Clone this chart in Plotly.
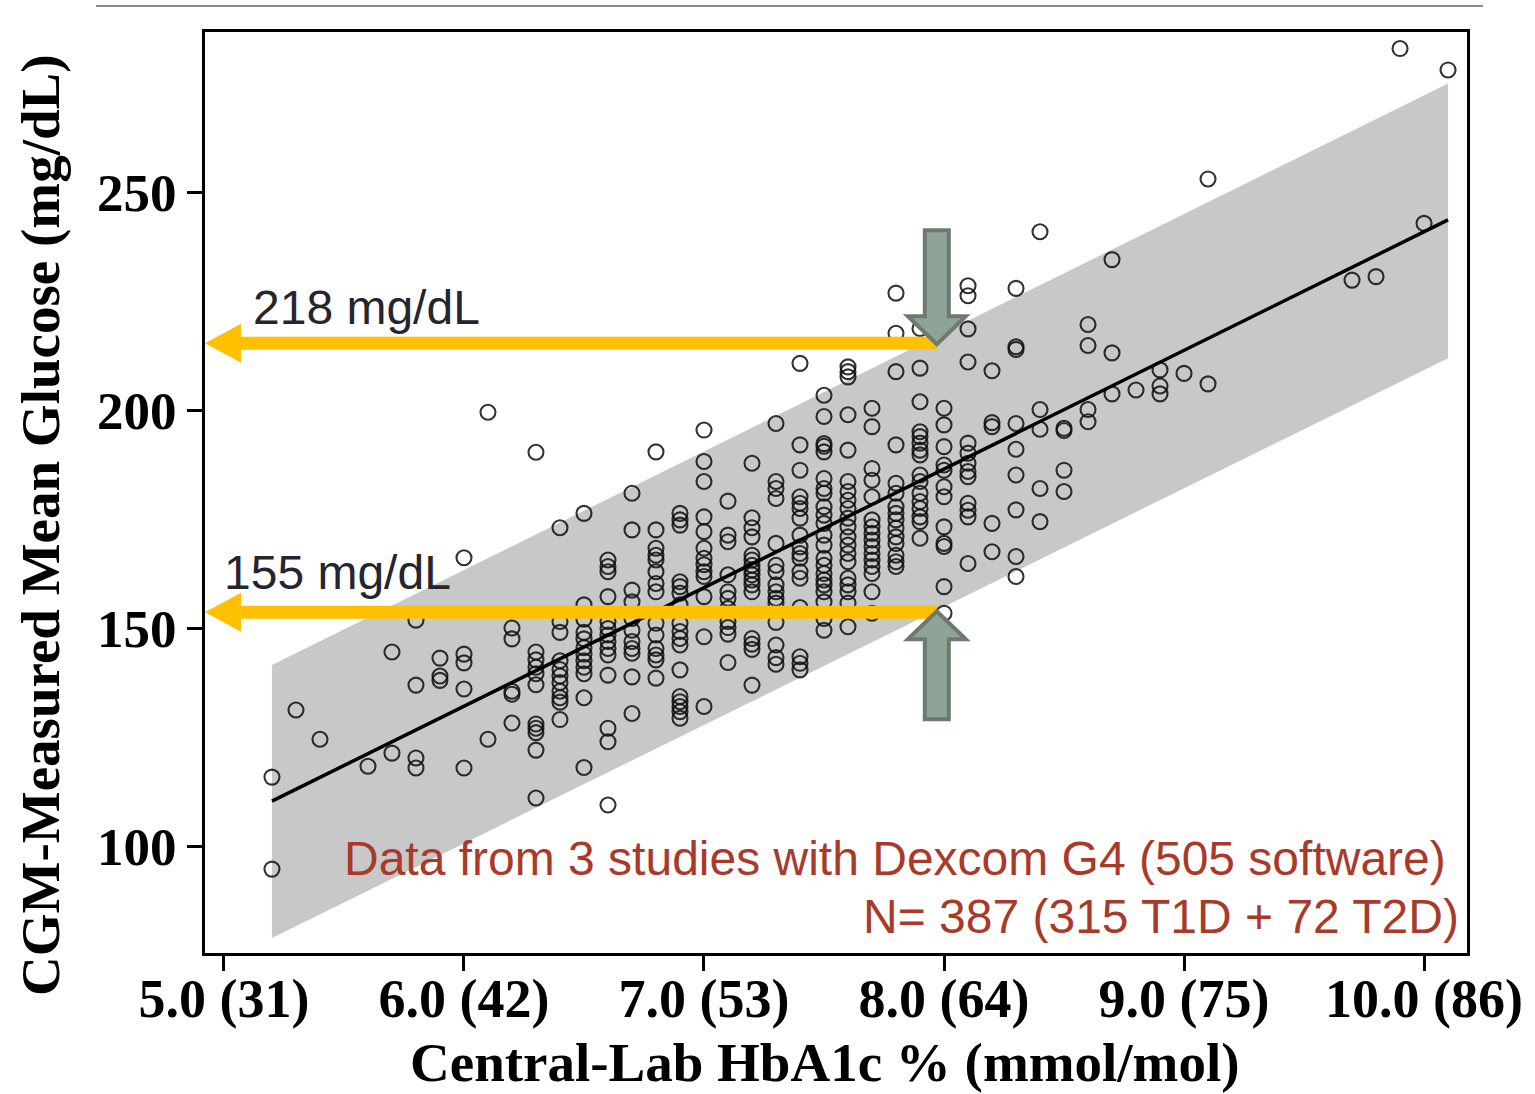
import plotly.graph_objects as go

# ---------------- data ----------------
# HbA1c (%) columns and the CGM-measured mean glucose (mg/dL) of the points in each column
A1C_COLUMNS = [5.2, 5.3, 5.4, 5.6, 5.7, 5.8, 5.9, 6.0, 6.1, 6.2,
               6.3, 6.4, 6.5, 6.6, 6.7, 6.8, 6.9, 7.0, 7.1, 7.2,
               7.3, 7.4, 7.5, 7.6, 7.7, 7.8, 7.9, 8.0, 8.1, 8.2,
               8.3, 8.4, 8.5, 8.6, 8.7, 8.8, 8.9, 9.0, 9.1, 9.7,
               9.8, 9.9, 10.0, 10.1]

GLUCOSE_BY_COLUMN = [
    [115.8, 94.7],
    [131.2],
    [124.5],
    [118.3],
    [144.5, 121.3],
    [151.8, 136.9, 120.2, 117.9],
    [143.1, 139.0, 138.0],
    [166.1, 144.0, 142.0, 136.0, 117.9],
    [199.5, 124.5],
    [150.0, 147.5, 135.5, 134.8, 128.2],
    [190.3, 144.5, 142.7, 141.0, 139.5, 137.0, 128.0, 127.0, 126.0, 122.0, 111.0],
    [173.0, 151.5, 149.0, 142.5, 140.5, 139.0, 137.5, 135.5, 134.0, 133.0, 129.0],
    [176.3, 155.3, 152.0, 149.0, 147.5, 145.5, 144.0, 142.5, 141.0, 139.5, 134.0, 118.0],
    [165.6, 164.1, 162.9, 157.2, 151.5, 149.9, 148.4, 146.9, 145.3, 143.8, 139.2, 127.0, 123.9, 109.4],
    [180.9, 172.5, 158.7, 156.0, 152.2, 149.5, 146.9, 145.3, 144.2, 138.8, 130.4],
    [190.4, 172.5, 168.3, 166.7, 165.6, 162.9, 160.2, 158.3, 151.1, 148.4, 145.3, 143.8, 142.7, 138.5],
    [176.3, 174.8, 173.6, 160.6, 159.5, 158.0, 155.3, 151.1, 149.2, 147.6, 146.1, 140.4, 134.3, 133.1,
     132.0, 130.8, 129.3],
    [195.4, 188.2, 183.6, 175.5, 172.1, 168.3, 166.0, 164.5, 162.9, 161.8, 157.2, 148.0, 132.0],
    [179.1, 171.3, 169.8, 162.2, 158.3, 156.8, 154.5, 151.5, 150.1, 148.6, 142.1],
    [187.8, 175.3, 173.0, 170.9, 166.7, 165.6, 164.4, 163.3, 162.2, 161.0, 159.9, 158.3, 147.6, 146.3,
     145.1, 136.9],
    [196.9, 183.6, 182.0, 179.7, 169.4, 164.4, 162.9, 159.9, 158.3, 156.8, 155.7, 151.3, 146.1, 143.2,
     141.7],
    [210.7, 192.0, 186.2, 180.1, 178.6, 177.4, 175.2, 171.3, 168.6, 167.1, 166.0, 162.9, 161.4, 154.7,
     143.4, 141.9, 140.4],
    [203.4, 198.5, 192.3, 191.7, 190.4, 184.3, 182.0, 180.9, 177.8, 175.9, 174.0, 171.3, 169.0, 166.0,
     164.4, 162.5, 161.0, 159.9, 158.3, 156.0, 152.2, 149.5],
    [209.9, 208.8, 207.6, 198.9, 190.8, 183.6, 181.3, 179.3, 177.4, 175.2, 173.2, 170.9, 169.0, 167.1,
     165.2, 161.4, 159.9, 158.3, 155.7, 150.3],
    [200.4, 196.2, 186.6, 183.9, 180.1, 174.8, 173.2, 171.7, 170.2, 168.7, 167.1, 165.6, 164.1, 162.5,
     158.3, 153.4],
    [226.8, 217.6, 208.8, 192.0, 183.2, 180.9, 177.8, 176.3, 174.8, 172.9, 170.9, 169.4, 166.7, 165.2,
     164.1],
    [218.7, 209.6, 201.9, 195.0, 193.9, 192.4, 190.8, 189.7, 185.1, 183.6, 180.9, 179.0, 177.4, 175.5,
     174.4, 170.6],
    [200.4, 196.6, 191.6, 187.4, 186.2, 182.4, 180.1, 173.2, 169.4, 168.7, 159.5, 153.4],
    [228.5, 226.2, 218.6, 211.0, 192.4, 190.1, 187.8, 185.9, 184.7, 178.6, 177.0, 175.5, 164.8],
    [209.0, 197.1, 196.2, 174.0, 167.5],
    [227.9, 214.5, 213.9, 196.9, 191.0, 185.1, 177.1, 166.4, 161.8],
    [240.9, 200.1, 195.6, 182.0, 174.4],
    [195.8, 195.3, 186.2, 181.3],
    [219.6, 214.8, 200.1, 197.3],
    [234.5, 213.1, 203.7],
    [204.6],
    [209.2, 205.5, 203.7],
    [208.4],
    [253.0, 206.0],
    [229.8],
    [230.6],
    [282.9],
    [242.8],
    [278.0],
]

# regression line and its band (read at both ends)
FIT_A1C = [5.2, 10.1]
FIT_GLUCOSE = [110.3, 243.6]
BAND_UPPER = [141.5, 274.9]
BAND_LOWER = [78.9, 211.9]

# axis ticks
X_TICKS = [5, 6, 7, 8, 9, 10]
X_TICK_LABELS = ["5.0 (31)", "6.0 (42)", "7.0 (53)", "8.0 (64)", "9.0 (75)", "10.0 (86)"]
Y_TICKS = [100, 150, 200, 250]

# highlighted read-outs
MARK_A1C = 7.97
MARK_GLUCOSE = [215.3, 153.6]
MARK_LABELS = ["218 mg/dL", "155 mg/dL"]
NOTE_LINES = ["Data from 3 studies with Dexcom G4 (505 software)",
              "N= 387 (315 T1D + 72 T2D)"]

# ---------------- figure ----------------
X_RANGE = [4.921, 10.179]
Y_RANGE = [75.46, 286.7]
W, H = 1535, 1094
M_L, M_R, M_T, M_B = 205, 68, 32, 141
PX_X = (W - M_L - M_R) / (X_RANGE[1] - X_RANGE[0])   # pixels per A1c unit
PX_Y = (H - M_T - M_B) / (Y_RANGE[1] - Y_RANGE[0])   # pixels per mg/dL

xs, ys = [], []
for a, vals in zip(A1C_COLUMNS, GLUCOSE_BY_COLUMN):
    for v in vals:
        xs.append(a)
        ys.append(v)

fig = go.Figure()

# band
fig.add_trace(go.Scatter(
    x=FIT_A1C + FIT_A1C[::-1], y=BAND_UPPER + BAND_LOWER[::-1],
    fill="toself", fillcolor="rgb(200,200,200)", line=dict(width=0),
    mode="lines", hoverinfo="skip", showlegend=False))

# points
fig.add_trace(go.Scatter(
    x=xs, y=ys, mode="markers", showlegend=False,
    marker=dict(symbol="circle-open", size=15, color="rgba(15,15,15,0.85)",
                line=dict(width=2.1, color="rgba(15,15,15,0.85)"))))

# regression line
fig.add_trace(go.Scatter(
    x=FIT_A1C, y=FIT_GLUCOSE, mode="lines", showlegend=False,
    line=dict(color="black", width=3.5)))

# orange horizontal arrows (pointing to the y axis)
def dx(px):
    return px / PX_X

def dy(px):
    return px / PX_Y

for g in MARK_GLUCOSE:
    x0 = X_RANGE[0]
    x1 = x0 + dx(36)
    h = dy(19.5)
    t = dy(6.5)
    xe = MARK_A1C
    path = (f"M {x0},{g} L {x1},{g + h} L {x1},{g + t} L {xe},{g + t} "
            f"L {xe},{g - t} L {x1},{g - t} L {x1},{g - h} Z")
    fig.add_shape(type="path", path=path, xref="x", yref="y",
                  fillcolor="#FFC000", line=dict(width=0), layer="above")

# green vertical arrows
def vertical_arrow(tip_y, direction, shaft_px):
    # direction = -1 : pointing down (tip at bottom); +1 : pointing up
    hw_s = dx(12)
    hw_h = dx(29)
    head = dy(28) * (-direction)
    shaft = dy(shaft_px) * (-direction)
    yb = tip_y + head
    ye = yb + shaft
    xc = MARK_A1C
    return (f"M {xc},{tip_y} L {xc + hw_h},{yb} L {xc + hw_s},{yb} L {xc + hw_s},{ye} "
            f"L {xc - hw_s},{ye} L {xc - hw_s},{yb} L {xc - hw_h},{yb} Z")

for path in (vertical_arrow(MARK_GLUCOSE[0] - dy(1), -1, 86),
             vertical_arrow(MARK_GLUCOSE[1] + dy(1), 1, 80)):
    fig.add_shape(type="path", path=path, xref="x", yref="y",
                  fillcolor="#8FA396", line=dict(color="#6C7B70", width=4), layer="above")

# top grey rule
fig.add_shape(type="line", xref="paper", yref="paper",
              x0=(96 - M_L) / (W - M_L - M_R), x1=(1483 - M_L) / (W - M_L - M_R),
              y0=1 + (M_T - 6) / (H - M_T - M_B), y1=1 + (M_T - 6) / (H - M_T - M_B),
              line=dict(color="#8C8C8C", width=2))

sans = "Liberation Sans, Arial, sans-serif"
serif = "Liberation Serif, Times New Roman, serif"

# value labels
fig.add_annotation(x=5.1145, y=223.6, xref="x", yref="y", text=MARK_LABELS[0],
                   showarrow=False, xanchor="left", yanchor="middle",
                   font=dict(family=sans, size=48, color="#25252F"))
fig.add_annotation(x=4.99, y=162.8, xref="x", yref="y", text=MARK_LABELS[1],
                   showarrow=False, xanchor="left", yanchor="middle",
                   font=dict(family=sans, size=48, color="#25252F"))

# note
fig.add_annotation(x=10.098, y=97.2, xref="x", yref="y", text=NOTE_LINES[0],
                   showarrow=False, xanchor="right", yanchor="middle",
                   font=dict(family=sans, size=48, color="#A93A2A"))
fig.add_annotation(x=10.156, y=83.9, xref="x", yref="y", text=NOTE_LINES[1],
                   showarrow=False, xanchor="right", yanchor="middle",
                   font=dict(family=sans, size=48, color="#A93A2A"))

# axis titles
fig.add_annotation(x=(40 - M_L) / (W - M_L - M_R), y=(H - M_B - 525) / (H - M_T - M_B),
                   xref="paper", yref="paper", text="CGM-Measured Mean Glucose (mg/dL)",
                   textangle=-90, showarrow=False, xanchor="center", yanchor="middle",
                   font=dict(family=serif, size=55, color="black", weight="bold"))
fig.add_annotation(x=(825 - M_L) / (W - M_L - M_R), y=(H - M_B - 1062) / (H - M_T - M_B),
                   xref="paper", yref="paper", text="Central-Lab HbA1c % (mmol/mol)",
                   showarrow=False, xanchor="center", yanchor="middle", borderpad=0,
                   font=dict(family=serif, size=55, color="black", weight="bold"))

axis_common = dict(showgrid=False, zeroline=False, showline=True, mirror=True,
                   linecolor="black", linewidth=3, ticks="outside", ticklen=15,
                   tickwidth=3, tickcolor="black")

fig.update_xaxes(range=X_RANGE, tickvals=X_TICKS, ticktext=X_TICK_LABELS,
                 ticklabelstandoff=-19,
                 tickfont=dict(family=serif, size=54, color="black", weight="bold"),
                 **axis_common)
fig.update_yaxes(range=Y_RANGE, tickvals=Y_TICKS,
                 tickfont=dict(family=serif, size=53, color="black", weight="bold"),
                 **axis_common)

fig.update_layout(width=W, height=H, margin=dict(l=M_L, r=M_R, t=M_T, b=M_B),
                  plot_bgcolor="white", paper_bgcolor="white", showlegend=False)

fig.write_html("out.html", config={"displayModeBar": False},
               post_script="document.body.style.margin='0';")
